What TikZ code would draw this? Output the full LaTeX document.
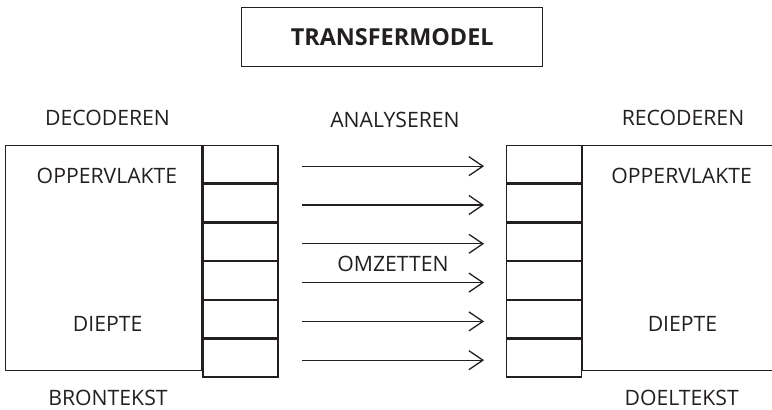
\documentclass[tikz,border=0pt]{standalone}
\usepackage{fontspec}
\setmainfont{Open Sans}
\usepackage{tikz}
\usetikzlibrary{positioning}
\usetikzlibrary{arrows.meta}
\definecolor{inkt}{RGB}{35,31,32}

\begin{document}
\begin{tikzpicture}[x=0.5pt,y=-0.5pt,line width=0.65pt,draw=inkt,text=inkt,
	cell/.style={rectangle,draw,minimum width=37.5pt,minimum height=18.75pt,inner sep=0pt},
	vak/.style={rectangle,draw,minimum width=98pt,minimum height=112.5pt,inner sep=0pt},
	txt/.style={inner sep=0pt,font=\fontsize{10.6}{12}\selectfont},
	pijl/.style={-{Straight Barb[length=7pt,width=9.5pt]},shorten <=11.85pt,shorten >=10.85pt}]
	\useasboundingbox (0,0) rectangle (772,410);
	\clip (0,0) rectangle (772,410);

	% titel
	\node [draw,minimum width=150.5pt,minimum height=29.7pt,font=\bfseries\fontsize{11.7}{14}\selectfont] (titel) at (392.2,37) {TRANSFERMODEL};

	% kolommen met vakjes
	\node [cell] (l1) at (240.5,164.2) {};
	\node [cell] (r1) at (543.9,164.2) {};
	\foreach \i [count=\j from 2] in {1,...,5} {
		\node [cell,below=0pt of l\i] (l\j) {};
		\node [cell,below=0pt of r\i] (r\j) {};
	}
	\node [vak,anchor=north east] (bron) at (l1.north west) {};
	\node [vak,anchor=north west] (doel) at (r1.north east) {};

	% pijlen
	\foreach \i in {1,...,6}
		\draw [pijl] ([yshift=-1pt]l\i.east) -- ([yshift=-1pt]r\i.west);

	% teksten
	\node [txt] (decod) at (107.5,117.5) {DECODEREN};
	\node [txt] (analys) at (395,119.5) {ANALYSEREN};
	\node [txt] (recod) at (683,117.5) {RECODEREN};
	\node [txt] (bopp) at (107,176) {OPPERVLAKTE};
	\node [txt] (bdiep) at (107.7,324) {DIEPTE};
	\node [txt] (dopp) at (681.7,176) {OPPERVLAKTE};
	\node [txt] (ddiep) at (682.5,324) {DIEPTE};
	\node [txt] (omzet) at (393,264) {OMZETTEN};
	\node [txt] (brontekst) at (108,398) {BRONTEKST};
	\node [txt] (doeltekst) at (681.7,398) {DOELTEKST};
\end{tikzpicture}
\end{document}
